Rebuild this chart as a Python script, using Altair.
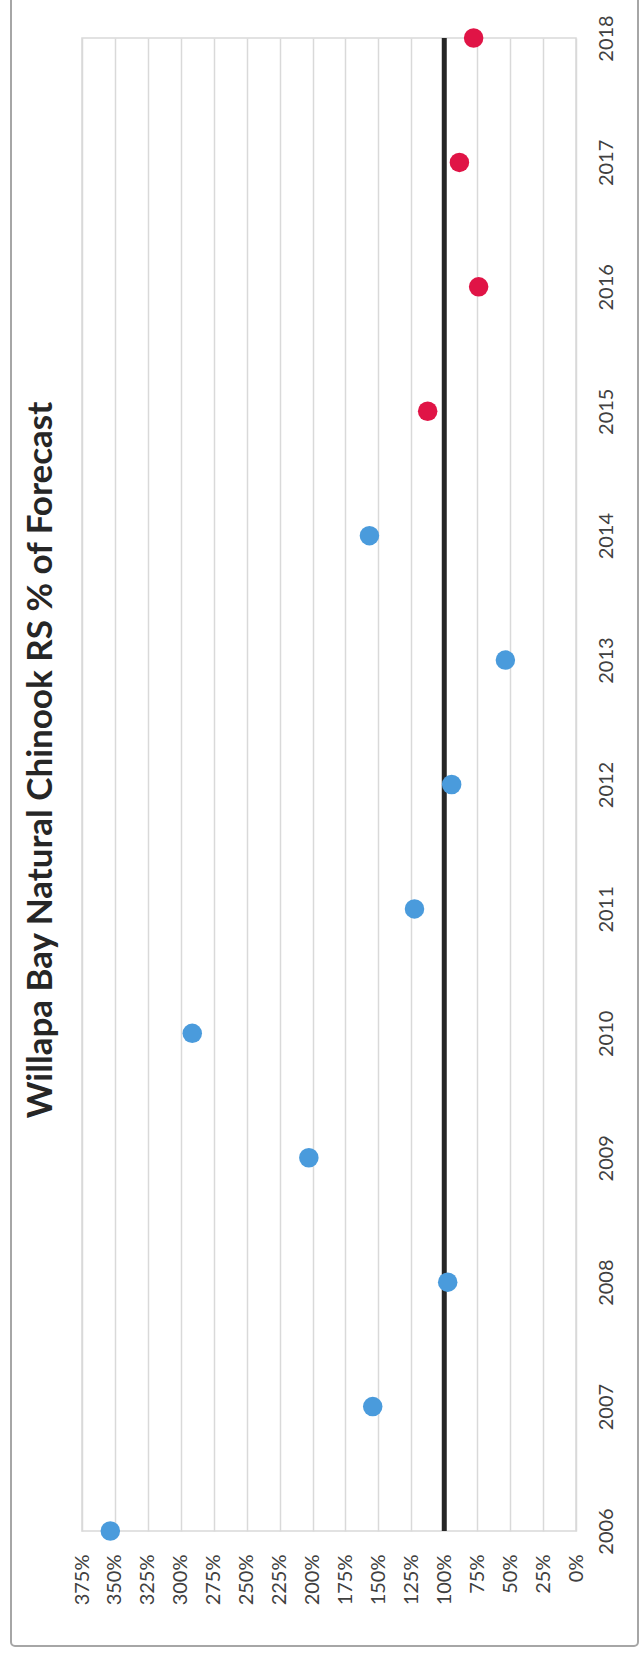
import altair as alt
import pandas as pd

# Return-to-spawning as a share of the pre-season forecast, by year
years = list(range(2006, 2019))
pct_of_forecast = [353.5, 154.3, 97.4, 202.8, 291.3, 122.6, 94.4, 53.6, 156.8, 112.6, 73.9, 88.5, 77.7]
period = ["earlier"] * 9 + ["recent"] * 4
period_colors = ["#4A9BDC", "#E01446"]

# Axis ticks
pct_ticks = list(range(0, 376, 25))

# 100% reference (forecast met) spanning the full range of years
target_pct = [100]
target_start = [2006]
target_end = [2018]

title_text = ["Willapa Bay Natural Chinook RS % of Forecast"]

points = pd.DataFrame({"year": years, "pct": pct_of_forecast, "period": period})
target = pd.DataFrame({"pct": target_pct, "start": target_start, "end": target_end})

PLOT_W = 494
PLOT_H = 1493
FONT = "Lato"
LABEL_COLOR = "#404040"

x_scale = alt.Scale(domain=[0, 375], reverse=True, nice=False, zero=True)
y_scale = alt.Scale(domain=[2006, 2018], nice=False, zero=False)

x_axis = alt.Axis(
    values=pct_ticks, labelExpr="datum.value + '%'", orient="bottom",
    labelAngle=270, labelAlign="right", labelBaseline="middle", labelPadding=23,
    ticks=False, domain=False, grid=True, gridColor="#D9D9D9", gridWidth=1.5,
    labelFont=FONT, labelFontSize=20, labelColor=LABEL_COLOR, title=None,
)
y_axis = alt.Axis(
    values=years, format="d", orient="right",
    labelAngle=270, labelAlign="center", labelBaseline="top", labelPadding=20,
    ticks=False, domain=False, grid=False,
    labelFont=FONT, labelFontSize=20, labelColor=LABEL_COLOR, title=None,
)

# Outer chart border
frame = alt.Chart(pd.DataFrame({"k": [0]})).mark_rect(
    fillOpacity=0, stroke="#A6A6A6", strokeWidth=2, cornerRadius=4
).encode(
    x=alt.value(-71), x2=alt.value(556), y=alt.value(-60), y2=alt.value(1608)
)

# Rotated chart title, reading bottom to top along the left side
title = alt.Chart(pd.DataFrame({"t": title_text})).mark_text(
    angle=270, align="center", baseline="alphabetic",
    font=FONT, fontSize=35, fontWeight="bold", color="#262626",
).encode(text="t:N", x=alt.value(-30), y=alt.value(722))

rule = alt.Chart(target).mark_rule(color="#262626", strokeWidth=5, strokeCap="butt").encode(
    x=alt.X("pct:Q", scale=x_scale, axis=x_axis),
    y=alt.Y("start:Q", scale=y_scale, axis=y_axis),
    y2="end:Q",
)

dots = alt.Chart(points).mark_circle(size=380, opacity=1).encode(
    x=alt.X("pct:Q", scale=x_scale, axis=x_axis),
    y=alt.Y("year:Q", scale=y_scale, axis=y_axis),
    color=alt.Color("period:N", scale=alt.Scale(domain=["earlier", "recent"], range=period_colors), legend=None),
)

chart = alt.layer(frame, title, rule, dots).properties(
    width=PLOT_W,
    height=PLOT_H,
    padding={"left": 82, "top": 38, "right": 68, "bottom": 124},
    autosize=alt.AutoSizeParams(type="none"),
).configure_view(stroke="#D9D9D9", strokeWidth=1.5)

chart.save("out.html", embed_options={"renderer": "svg", "actions": False})
